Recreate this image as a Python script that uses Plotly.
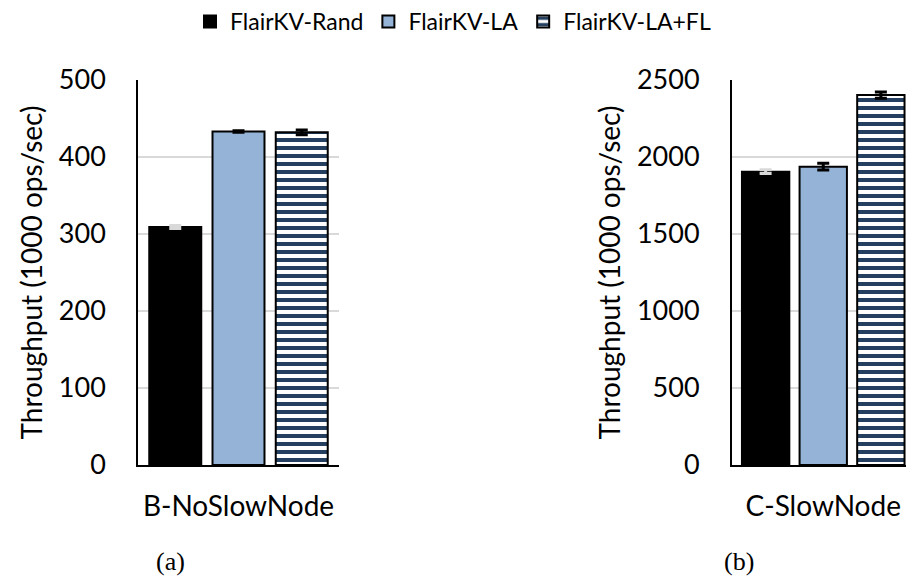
import plotly.graph_objects as go

# Throughput data (1000 ops/sec)
series = ["FlairKV-Rand", "FlairKV-LA", "FlairKV-LA+FL"]
cat_a = ["B-NoSlowNode"]
cat_b = ["C-SlowNode"]
vals_a = [309, 433, 432]
err_a = [2, 1, 3]
vals_b = [1905, 1937, 2402]
err_b = [12, 22, 20]
yticks_a = [0, 100, 200, 300, 400, 500]
yticks_b = [0, 500, 1000, 1500, 2000, 2500]

FONT = "Lato"
W, H = 906, 582

fills = ["#000000", "#95B3D7", "#FFFFFF"]
err_colors = ["#D9D9D9", "#000000", "#000000"]


def marker_for(i):
    m = dict(color=fills[i], line=dict(color="#000000", width=2))
    if i == 2:
        m["pattern"] = dict(shape="-", fgcolor="#243F60", bgcolor="#FFFFFF",
                            size=8, solidity=0.5, fillmode="replace")
    return m


fig = go.Figure()
for i, name in enumerate(series):
    fig.add_trace(go.Bar(
        x=cat_a, y=[vals_a[i]], name=name, legendgroup=name,
        marker=marker_for(i), xaxis="x", yaxis="y",
        error_y=dict(type="data", array=[err_a[i]], color=err_colors[i],
                     thickness=3, width=6),
    ))
for i, name in enumerate(series):
    fig.add_trace(go.Bar(
        x=cat_b, y=[vals_b[i]], name=name, legendgroup=name, showlegend=False,
        marker=marker_for(i), xaxis="x2", yaxis="y2",
        error_y=dict(type="data", array=[err_b[i]], color=err_colors[i],
                     thickness=3, width=6),
    ))

ydom = [1 - 465 / H, 1 - 80 / H]
axis_font = dict(family=FONT, size=27, color="#000000")

common_y = dict(
    domain=ydom, automargin=False, showline=True, linecolor="#000000", linewidth=1.5,
    showgrid=True, gridcolor="#D9D9D9", gridwidth=1.5, zeroline=False,
    ticks="", tickfont=axis_font, ticklabelstandoff=25,
    title=dict(text="Throughput (1000 ops/sec)",
               font=dict(family=FONT, size=28, color="#000000"), standoff=8),
)
common_x = dict(
    type="category", automargin=False, showline=True, linecolor="#000000", linewidth=1.5,
    showgrid=False, ticks="", ticklabelstandoff=16,
    tickfont=dict(family=FONT, size=28, color="#000000"),
)

fig.update_layout(
    width=W, height=H,
    margin=dict(l=0, r=0, t=0, b=0, autoexpand=False),
    paper_bgcolor="#FFFFFF", plot_bgcolor="#FFFFFF",
    barmode="group", bargap=0.056, bargroupgap=0.178,
    font=dict(family=FONT, color="#000000"),
    xaxis=dict(domain=[138 / W, 339 / W], anchor="y", range=[-0.5, 0.5], **common_x),
    xaxis2=dict(domain=[731.7 / W, 1.0], anchor="y2", range=[-0.5, 0.452], **common_x),
    yaxis=dict(anchor="x", range=[0, 500], tickvals=yticks_a, **common_y),
    yaxis2=dict(anchor="x2", range=[0, 2500], tickvals=yticks_b, **common_y),
    legend=dict(orientation="h", x=0.5, xanchor="center", y=1.0, yanchor="top",
                font=dict(family=FONT, size=23, color="#000000"),
                tracegroupgap=0),
    annotations=[
        dict(text="(a)", x=154 / W, y=1 - 561 / H, xref="paper", yref="paper",
             yanchor="middle", showarrow=False,
             font=dict(family="Liberation Serif", size=26, color="#000000")),
        dict(text="(b)", x=756 / W, y=1 - 561 / H, xref="paper", yref="paper",
             yanchor="middle", showarrow=False,
             font=dict(family="Liberation Serif", size=26, color="#000000")),
    ],
)

fig.write_html("out.html")
